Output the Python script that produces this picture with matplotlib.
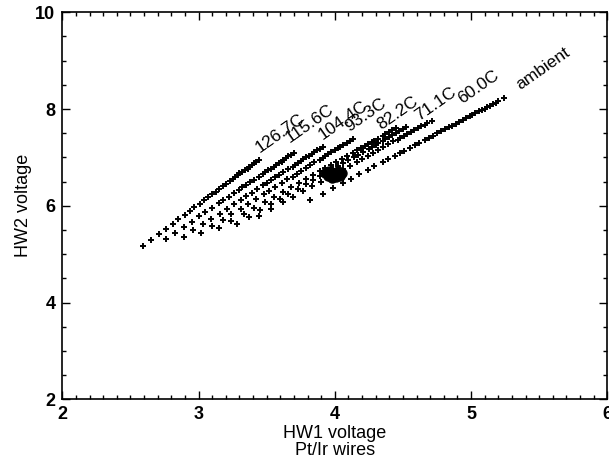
import matplotlib
matplotlib.use("Agg")
import matplotlib.pyplot as plt
from matplotlib.ticker import MultipleLocator

plt.rcParams['font.family'] = ['Liberation Sans', 'DejaVu Sans']

# calibration curves, one per wire temperature (HW1 voltage, HW2 voltage)
labels = ["126.7C", "115.6C", "104.4C", "93.3C", "82.2C", "71.1C", "60.0C", "ambient"]

hw1_126 = [2.59, 2.65, 2.71, 2.76, 2.81, 2.85, 2.90, 2.94, 2.97, 3.01, 3.04, 3.07, 3.10, 3.13, 3.15,
           3.18, 3.20, 3.23, 3.25, 3.27, 3.29, 3.30, 3.32, 3.34, 3.36, 3.37, 3.39, 3.41, 3.42, 3.44]
hw2_126 = [5.17, 5.29, 5.42, 5.53, 5.63, 5.72, 5.81, 5.90, 5.97, 6.04, 6.11, 6.18, 6.24, 6.29, 6.34,
           6.40, 6.45, 6.51, 6.56, 6.59, 6.63, 6.67, 6.70, 6.74, 6.77, 6.81, 6.84, 6.88, 6.91, 6.95]

hw1_115 = [2.76, 2.83, 2.89, 2.95, 3.00, 3.05, 3.10, 3.15, 3.18, 3.22, 3.26, 3.30, 3.32, 3.35, 3.38,
           3.41, 3.44, 3.47, 3.49, 3.51, 3.53, 3.55, 3.57, 3.59, 3.61, 3.62, 3.64, 3.66, 3.68, 3.70]
hw2_115 = [5.32, 5.44, 5.57, 5.67, 5.78, 5.87, 5.96, 6.05, 6.12, 6.19, 6.26, 6.33, 6.38, 6.44, 6.49,
           6.54, 6.59, 6.65, 6.70, 6.74, 6.77, 6.81, 6.84, 6.88, 6.91, 6.95, 6.98, 7.02, 7.05, 7.09]

hw1_104 = [2.89, 2.96, 3.03, 3.09, 3.16, 3.21, 3.26, 3.31, 3.35, 3.39, 3.43, 3.47, 3.50, 3.53, 3.56,
           3.59, 3.62, 3.66, 3.69, 3.71, 3.73, 3.75, 3.77, 3.79, 3.81, 3.83, 3.85, 3.87, 3.89, 3.91]
hw2_104 = [5.36, 5.49, 5.62, 5.73, 5.84, 5.94, 6.03, 6.12, 6.20, 6.27, 6.35, 6.42, 6.48, 6.53, 6.59,
           6.64, 6.70, 6.76, 6.81, 6.85, 6.89, 6.92, 6.96, 7.00, 7.03, 7.07, 7.11, 7.15, 7.18, 7.22]

hw1_93 = [3.02, 3.10, 3.18, 3.24, 3.31, 3.36, 3.42, 3.48, 3.52, 3.56, 3.61, 3.65, 3.69, 3.72, 3.75,
          3.79, 3.82, 3.85, 3.89, 3.91, 3.93, 3.95, 3.97, 4.00, 4.02, 4.04, 4.06, 4.09, 4.11, 4.13]
hw2_93 = [5.44, 5.58, 5.71, 5.83, 5.94, 6.04, 6.14, 6.24, 6.31, 6.39, 6.47, 6.55, 6.60, 6.66, 6.72,
          6.78, 6.84, 6.90, 6.95, 6.99, 7.03, 7.07, 7.11, 7.15, 7.19, 7.22, 7.26, 7.30, 7.34, 7.38]

hw1_82 = [3.15, 3.24, 3.33, 3.41, 3.49, 3.55, 3.62, 3.68, 3.74, 3.79, 3.84, 3.89, 3.93, 3.97, 4.01,
          4.05, 4.09, 4.13, 4.16, 4.19, 4.22, 4.24, 4.27, 4.29, 4.32, 4.35, 4.37, 4.40, 4.42, 4.45]
hw2_82 = [5.54, 5.68, 5.83, 5.95, 6.08, 6.18, 6.28, 6.38, 6.47, 6.55, 6.63, 6.71, 6.78, 6.84, 6.90,
          6.96, 7.02, 7.09, 7.15, 7.19, 7.23, 7.27, 7.31, 7.35, 7.39, 7.44, 7.48, 7.52, 7.56, 7.60]

hw1_71 = [3.28, 3.37, 3.45, 3.53, 3.60, 3.66, 3.73, 3.79, 3.84, 3.89, 3.94, 3.99, 4.02, 4.06, 4.10,
          4.14, 4.17, 4.21, 4.25, 4.27, 4.30, 4.32, 4.35, 4.37, 4.40, 4.42, 4.45, 4.47, 4.50, 4.52]
hw2_71 = [5.63, 5.77, 5.91, 6.03, 6.15, 6.25, 6.35, 6.45, 6.53, 6.61, 6.68, 6.76, 6.82, 6.88, 6.94,
          7.00, 7.06, 7.12, 7.18, 7.22, 7.26, 7.30, 7.34, 7.38, 7.42, 7.46, 7.50, 7.54, 7.58, 7.62]

hw1_60 = [3.44, 3.53, 3.62, 3.69, 3.77, 3.83, 3.90, 3.96, 4.01, 4.06, 4.11, 4.16, 4.20, 4.24, 4.28,
          4.32, 4.35, 4.39, 4.43, 4.46, 4.48, 4.51, 4.53, 4.56, 4.58, 4.61, 4.63, 4.66, 4.68, 4.71]
hw2_60 = [5.79, 5.93, 6.07, 6.18, 6.30, 6.40, 6.50, 6.60, 6.68, 6.76, 6.83, 6.91, 6.97, 7.03, 7.09,
          7.15, 7.21, 7.27, 7.33, 7.37, 7.41, 7.44, 7.48, 7.52, 7.56, 7.60, 7.64, 7.68, 7.72, 7.76]

hw1_amb = [3.82, 3.91, 3.99, 4.06, 4.12, 4.18, 4.24, 4.29, 4.35, 4.39, 4.44, 4.48, 4.51, 4.55, 4.59,
           4.62, 4.66, 4.69, 4.72, 4.75, 4.78, 4.81, 4.84, 4.86, 4.89, 4.91, 4.94, 4.96, 4.99, 5.01,
           5.03, 5.06, 5.08, 5.10, 5.12, 5.14, 5.16, 5.18, 5.20, 5.24]
hw2_amb = [6.12, 6.25, 6.37, 6.48, 6.56, 6.65, 6.74, 6.82, 6.90, 6.96, 7.04, 7.10, 7.14, 7.20, 7.26,
           7.30, 7.36, 7.41, 7.45, 7.50, 7.54, 7.59, 7.63, 7.66, 7.70, 7.73, 7.78, 7.81, 7.85, 7.88,
           7.91, 7.96, 7.98, 8.01, 8.04, 8.07, 8.10, 8.13, 8.16, 8.22]

# dense cluster of overlapping points near (4.0, 6.6)
blob_x = [3.93, 3.96, 3.99, 4.02, 4.05, 3.95, 3.98, 4.01, 4.04]
blob_y = [6.67, 6.71, 6.68, 6.71, 6.67, 6.61, 6.58, 6.59, 6.62]

# where each label starts
label_x = [3.46, 3.68, 3.92, 4.12, 4.35, 4.63, 4.95, 5.37]
label_y = [7.04, 7.25, 7.30, 7.47, 7.52, 7.70, 8.06, 8.34]

curves = [(hw1_126, hw2_126), (hw1_115, hw2_115), (hw1_104, hw2_104), (hw1_93, hw2_93),
          (hw1_82, hw2_82), (hw1_71, hw2_71), (hw1_60, hw2_60), (hw1_amb, hw2_amb)]

fig = plt.figure(figsize=(6.09, 4.61), dpi=100)
ax = fig.add_axes([0.1023, 0.1338, 0.895, 0.8395])

for xs, ys in curves:
    ax.plot(xs, ys, linestyle='none', marker='+', markersize=4.5,
            markeredgewidth=1.4, color='black')
ax.plot(blob_x, blob_y, linestyle='none', marker='o', markersize=6.5, color='black')

for lab, lx, ly in zip(labels, label_x, label_y):
    ax.text(lx, ly, lab, rotation=35, rotation_mode='anchor', ha='left', va='bottom',
            fontsize=12.5, color='black')

ax.set_xlim(2, 6)
ax.set_ylim(2, 10)
ax.xaxis.set_major_locator(MultipleLocator(1))
ax.xaxis.set_minor_locator(MultipleLocator(0.1))
ax.yaxis.set_major_locator(MultipleLocator(2))
ax.yaxis.set_minor_locator(MultipleLocator(0.5))
ax.tick_params(which='both', direction='in', top=True, right=True, labelsize=13, width=1)
ax.tick_params(which='major', length=6, pad=5)
ax.tick_params(which='minor', length=3)
for t in ax.get_xticklabels() + ax.get_yticklabels():
    t.set_fontweight('bold')
for s in ax.spines.values():
    s.set_linewidth(1.2)

ax.set_xlabel("HW1 voltage\nPt/Ir wires", fontsize=13, linespacing=1.05, labelpad=1)
ax.set_ylabel("HW2 voltage", fontsize=13, labelpad=2)

fig.savefig("out.png", dpi=100)
